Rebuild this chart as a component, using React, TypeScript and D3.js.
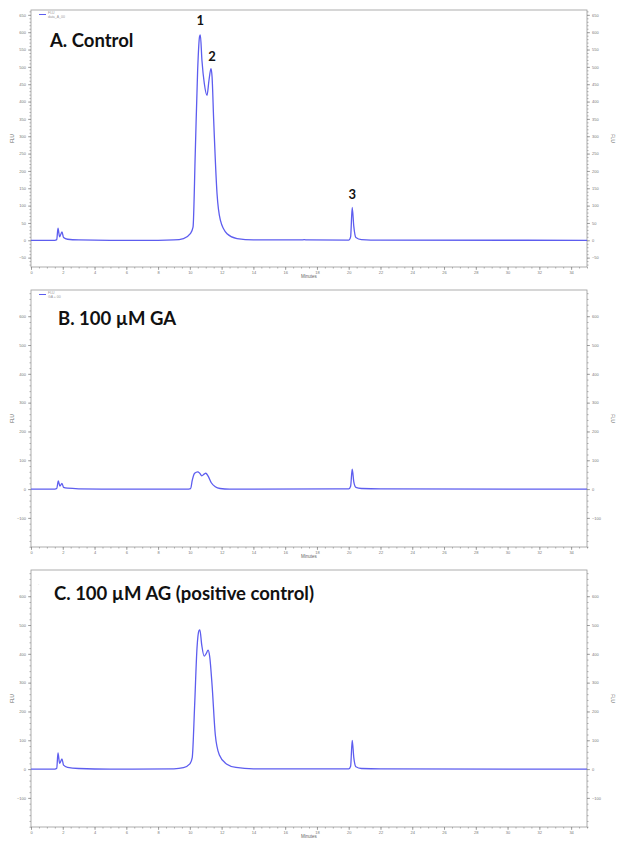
import React, { useRef, useEffect } from "react";
import * as d3 from "d3";

// x axis (minutes) and y tick labels
const xDomain = [0, 35];
const xTicks = [0, 2, 4, 6, 8, 10, 12, 14, 16, 18, 20, 22, 24, 26, 28, 30, 32, 34];
const yTicksA = [-50, 0, 50, 100, 150, 200, 250, 300, 350, 400, 450, 500, 550, 600, 650];
const yTicksBC = [-100, 0, 100, 200, 300, 400, 500, 600];

// A. Control
const timeA = [0, 1.5, 1.62, 1.7, 1.8, 1.95, 2.05, 2.3, 3, 5, 8, 9, 9.6, 10.03, 10.2, 10.34, 10.49, 10.61, 10.66, 10.76, 10.91, 11.08, 11.2, 11.33, 11.4, 11.5, 11.71, 11.92, 12.34, 12.97, 14, 17, 17.2, 17.4, 20, 20.12, 20.22, 20.32, 20.45, 20.8, 22, 35];
const fluA = [0, 0, 2, 35, 10, 24, 8, 3, 1, 0, 0, 1, 5, 19, 38, 251, 490, 587, 592, 519, 452, 418, 460, 495, 470, 346, 135, 58, 19, 5, 1, 1, 2, 1, 0.5, 10, 95, 40, 8, 2, 0.5, 0];

// B. 100 µM GA
const timeB = [0, 1.5, 1.62, 1.72, 1.82, 1.95, 2.05, 2.3, 3, 5, 9.8, 10.05, 10.15, 10.3, 10.5, 10.62, 10.75, 10.9, 11.0, 11.15, 11.35, 11.6, 11.9, 12.5, 20, 20.12, 20.22, 20.32, 20.45, 20.8, 22, 35];
const fluB = [0, 0, 2, 28, 10, 20, 6, 3, 1, 0, 0, 2, 30, 55, 60, 55, 46, 52, 55, 45, 22, 8, 2, 0, 0.5, 10, 69, 25, 6, 2, 0.5, 0];

// C. 100 µM AG (positive control)
const timeC = [0, 1.5, 1.62, 1.7, 1.8, 1.95, 2.05, 2.3, 3, 5, 9, 9.6, 10.0, 10.15, 10.3, 10.45, 10.57, 10.63, 10.75, 10.9, 11.02, 11.15, 11.25, 11.4, 11.6, 11.85, 12.3, 12.9, 14, 20, 20.12, 20.22, 20.32, 20.45, 20.8, 22, 35];
const fluC = [0, 0, 3, 56, 20, 35, 14, 6, 2, 0, 1, 5, 18, 40, 220, 420, 480, 483, 430, 392, 400, 413, 390, 290, 120, 50, 18, 6, 1, 0.5, 10, 100, 40, 8, 2, 0.5, 0];

const panelTitles = ["A. Control", "B. 100 µM GA", "C. 100 µM AG (positive control)"];
const legendNames = ["data_A_00", "GA + 00", ""];
const peakNames = ["1", "2", "3"];
const peakTimes = [10.66, 11.33, 20.22];
const peakValues = [592, 495, 95];

const LINE = "#5d5def";
const W = 617;
const H = 849;
const left = 31;
const right = 587;
const plotH = 257;

const panels = [
  { top: 10, yDomain: [-77, 664], yTicks: yTicksA, minor: 10, time: timeA, flu: fluA, titleX: 50, titleY: 47 },
  { top: 290, yDomain: [-201, 691], yTicks: yTicksBC, minor: 20, time: timeB, flu: fluB, titleX: 58, titleY: 325 },
  { top: 570, yDomain: [-201, 691], yTicks: yTicksBC, minor: 20, time: timeC, flu: fluC, titleX: 54, titleY: 600 },
];

const styleAxis = (g, size) => {
  g.select(".domain").remove();
  g.selectAll("line").attr("stroke", "#777").attr("stroke-width", 0.6);
  g.selectAll("text").attr("fill", "#777").attr("font-size", size).attr("font-family", "Liberation Sans, Arial, sans-serif");
};

const Chromatograms = () => {
  const ref = useRef(null);

  useEffect(() => {
    const svg = d3.select(ref.current);
    svg.selectAll("*").remove();

    svg.append("rect").attr("width", W).attr("height", H).attr("fill", "#fff");

    panels.forEach((p, i) => {
      const bottom = p.top + plotH;
      const x = d3.scaleLinear().domain(xDomain).range([left, right]);
      const y = d3.scaleLinear().domain(p.yDomain).range([bottom, p.top]);
      const g = svg.append("g");

      // minor ticks
      const minorX = d3.range(xDomain[0], xDomain[1] + 0.001, 0.5);
      const minorY = d3.range(Math.ceil(p.yDomain[0] / p.minor) * p.minor, p.yDomain[1], p.minor);
      g.append("g").attr("transform", `translate(0,${bottom})`)
        .call(d3.axisBottom(x).tickValues(minorX).tickSize(1.5).tickFormat(() => ""))
        .call((a) => styleAxis(a, 4));
      g.append("g").attr("transform", `translate(${left},0)`)
        .call(d3.axisLeft(y).tickValues(minorY).tickSize(1.5).tickFormat(() => ""))
        .call((a) => styleAxis(a, 4));
      g.append("g").attr("transform", `translate(${right},0)`)
        .call(d3.axisRight(y).tickValues(minorY).tickSize(1.5).tickFormat(() => ""))
        .call((a) => styleAxis(a, 4));

      // major ticks + labels
      g.append("g").attr("transform", `translate(0,${bottom})`)
        .call(d3.axisBottom(x).tickValues(xTicks).tickSize(3).tickPadding(1))
        .call((a) => styleAxis(a, 4));
      g.append("g").attr("transform", `translate(${left},0)`)
        .call(d3.axisLeft(y).tickValues(p.yTicks).tickSize(3).tickPadding(2))
        .call((a) => styleAxis(a, 4));
      g.append("g").attr("transform", `translate(${right},0)`)
        .call(d3.axisRight(y).tickValues(p.yTicks).tickSize(3).tickPadding(2))
        .call((a) => styleAxis(a, 4));

      // frame
      g.append("rect")
        .attr("x", left).attr("y", p.top)
        .attr("width", right - left).attr("height", plotH)
        .attr("fill", "none").attr("stroke", "#9a9a9a").attr("stroke-width", 0.8);

      // axis titles
      g.append("text")
        .attr("x", (left + right) / 2).attr("y", bottom + 11)
        .attr("text-anchor", "middle").attr("font-size", 4.5)
        .attr("font-family", "Liberation Sans, Arial, sans-serif").attr("fill", "#666")
        .text("Minutes");
      [[12, -90], [613, 90]].forEach(([tx, rot]) => {
        g.append("text")
          .attr("transform", `translate(${tx},${p.top + plotH / 2}) rotate(${rot})`)
          .attr("text-anchor", "middle").attr("dy", "0.35em").attr("font-size", 4.5)
          .attr("font-family", "Liberation Sans, Arial, sans-serif").attr("fill", "#666")
          .text("FLU");
      });

      // legend
      if (legendNames[i]) {
        g.append("line")
          .attr("x1", 39).attr("x2", 46).attr("y1", p.top + 4.5).attr("y2", p.top + 4.5)
          .attr("stroke", LINE).attr("stroke-width", 1);
        g.append("text").attr("x", 48).attr("y", p.top + 4)
          .attr("font-size", 3.5).attr("fill", "#999").attr("font-family", "Liberation Sans, Arial, sans-serif")
          .text("FLU");
        g.append("text").attr("x", 48).attr("y", p.top + 8)
          .attr("font-size", 3.5).attr("fill", "#999").attr("font-family", "Liberation Sans, Arial, sans-serif")
          .text(legendNames[i]);
      } else {
        g.append("text").attr("x", 38).attr("y", p.top + 16)
          .attr("font-size", 3.5).attr("fill", "#999").attr("font-family", "Liberation Sans, Arial, sans-serif")
          .text("·");
      }

      // trace
      const pts = p.time.map((t, k) => [t, p.flu[k]]);
      const line = d3.line().x((d) => x(d[0])).y((d) => y(d[1])).curve(d3.curveMonotoneX);
      g.append("path")
        .attr("d", line(pts))
        .attr("fill", "none")
        .attr("stroke", LINE)
        .attr("stroke-width", 1.3)
        .attr("stroke-linejoin", "round");

      // title
      g.append("text")
        .attr("x", p.titleX).attr("y", p.titleY)
        .attr("font-size", 18.5).attr("font-weight", "bold")
        .attr("font-family", "Lato, Open Sans, sans-serif").attr("fill", "#111")
        .text(panelTitles[i]);

      // peak numbers (control only)
      if (i === 0) {
        peakNames.forEach((name, k) => {
          g.append("text")
            .attr("x", x(peakTimes[k]) + (k === 1 ? 1 : 0))
            .attr("y", y(peakValues[k]) - (k === 0 ? 10 : 8))
            .attr("text-anchor", "middle")
            .attr("font-size", 13).attr("font-weight", "bold")
            .attr("font-family", "Lato, Open Sans, sans-serif").attr("fill", "#111")
            .text(name);
        });
      }
    });
  }, []);

  return (
    <svg
      ref={ref}
      width={W}
      height={H}
      style={{ position: "absolute", left: 0, top: 0, background: "#fff" }}
    />
  );
};

export default function App() {
  return <Chromatograms />;
}
